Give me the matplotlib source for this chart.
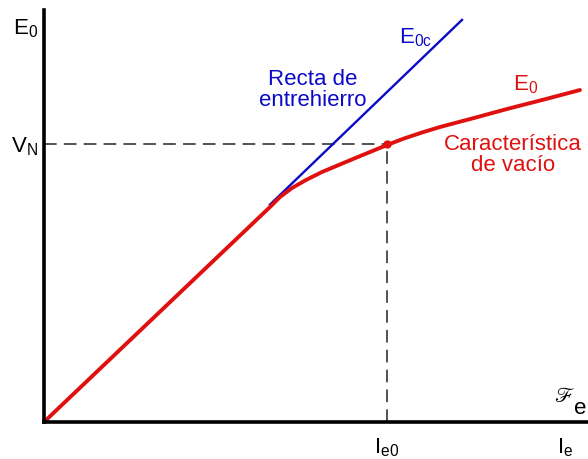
import matplotlib.pyplot as plt

plt.rcParams['font.family'] = ['Liberation Sans', 'DejaVu Sans']
plt.rcParams['mathtext.fontset'] = 'custom'
plt.rcParams['mathtext.rm'] = 'Liberation Sans'
plt.rcParams['mathtext.it'] = 'Liberation Sans'

# curva de vacío (unidades arbitrarias, eje x = excitación, eje y = fem)
vacio_x = [0, 226, 236, 248, 262, 278, 309, 343, 360, 378, 396, 430, 463, 500, 536]
vacio_y = [0, 215, 225, 234, 242, 250, 263, 277, 283.5, 289.5, 295, 304, 313, 322.5, 332]
# recta de entrehierro
recta_x = [226, 418]
pendiente = 0.962
Ie0 = 343
VN = 278

fig = plt.figure(figsize=(5.88, 4.59), dpi=100)
ax = fig.add_axes([44/588, 37/459, 544/588, 412/459])
ax.set_xlim(0, 544); ax.set_ylim(0, 412)
for s in ['top', 'right']:
    ax.spines[s].set_visible(False)
for s in ['left', 'bottom']:
    ax.spines[s].set_linewidth(2.6)
ax.set_xticks([]); ax.set_yticks([])

ax.plot([0, Ie0], [VN, VN], '--', color='#444444', lw=1.3, dashes=(7, 4), clip_on=False)
ax.plot([Ie0, Ie0], [0, VN], '--', color='#444444', lw=1.3, dashes=(7, 4), clip_on=False)
ax.plot(recta_x, [pendiente * x for x in recta_x], color='#0a0ac8', lw=1.7, clip_on=False)
ax.plot(vacio_x, vacio_y, color='#e01010', lw=2.8, solid_capstyle='round',
        solid_joinstyle='round', clip_on=False)
ax.plot([Ie0], [VN], 'o', color='#e01010', ms=5, clip_on=False)

fs = 16
ax.text(-6, 393, r'E$_0$', fontsize=fs, ha='right', va='center', clip_on=False)
ax.text(-6, 275, r'V$_{\mathrm{N}}$', fontsize=fs, ha='right', va='center', clip_on=False)
ax.text(Ie0, -26, r'I$_{\mathrm{e0}}$', fontsize=fs, ha='center', va='center', clip_on=False)
ax.text(521, -26, r'I$_{\mathrm{e}}$', fontsize=fs, ha='center', va='center', clip_on=False)
ax.text(520, 26, r'$\mathscr{F}$', fontsize=15, math_fontfamily='stix', ha='center', va='center', clip_on=False)
ax.text(536, 13, 'e', fontsize=fs, ha='center', va='center', clip_on=False)
ax.text(372, 384, r'E$_{\mathrm{0c}}$', fontsize=fs, color='#0a0ac8', ha='center', va='center')
ax.text(269, 332, 'Recta de\nentrehierro', fontsize=fs, color='#0a0ac8', ha='center', va='center', linespacing=1.0)
ax.text(482, 337, r'E$_0$', fontsize=fs, color='#e01010', ha='center', va='center')
ax.text(469, 267, 'Característica\nde vacío', fontsize=fs, color='#e01010', ha='center', va='center', linespacing=1.0)

fig.savefig('out.png', dpi=100)
